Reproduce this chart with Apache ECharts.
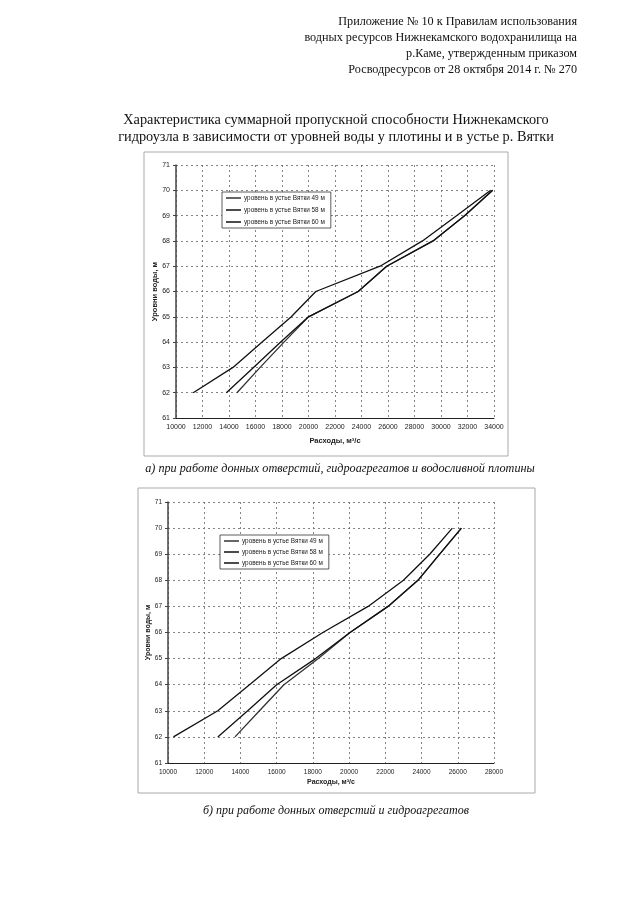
<!DOCTYPE html>
<html><head><meta charset="utf-8">
<script src="https://cdn.jsdelivr.net/npm/echarts@6/dist/echarts.min.js"></script>
<style>html,body{margin:0;padding:0;background:#fff}#c{width:640px;height:905px}</style>
</head><body><div id="c"></div>
<script>
// Water levels at the dam (m)
const levels = [62, 63, 64, 65, 66, 67, 68, 69, 70];
// Chart a) discharges (m3/s) for Vyatka mouth levels 49, 58, 60 m
const a49 = [14600, 16350, 18150, 20000, 23750, 25900, 29400, 31800, 33900];
const a58 = [13800, 15850, 17900, 20000, 23750, 25900, 29400, 31800, 33900];
const a60 = [11300, 14300, 16500, 18700, 20550, 25400, 28600, 31200, 33750];
// Chart b)
const b49 = [13700, 15050, 16400, 18300, 20050, 22150, 23800, 25000, 26200];
const b58 = [12750, 14400, 16000, 18150, 20050, 22150, 23800, 25000, 26200];
const b60 = [10300, 12750, 14500, 16250, 18550, 21050, 23000, 24450, 25700];
const names = ['уровень в устье Вятки 49 м', 'уровень в устье Вятки 58 м', 'уровень в устье Вятки 60 м'];
const headerLines = ['Приложение № 10 к Правилам использования', 'водных ресурсов Нижнекамского водохранилища на', 'р.Каме, утвержденным приказом', 'Росводресурсов от 28 октября 2014 г. № 270'];
const titleLines = ['Характеристика суммарной пропускной способности Нижнекамского', 'гидроузла в зависимости от уровней воды у плотины и в устье р. Вятки'];
const captionA = 'а) при работе донных отверстий, гидроагрегатов и водосливной плотины';
const captionB = 'б) при работе донных отверстий и гидроагрегатов';
const xNameText = 'Расходы, м³/с';
const yNameText = 'Уровни воды, м';

const pairs = (xs) => xs.map((x, i) => [x, levels[i]]);
const chart = echarts.init(document.getElementById('c'), null, {renderer: 'canvas'});

const gridLine = {show: true, lineStyle: {color: '#666', width: 0.8, type: [2, 3]}};
function xAx(gi, max, fs, nameGap) {
  return {type: 'value', gridIndex: gi, min: 10000, max: max, interval: 2000,
    axisLine: {show: true, lineStyle: {color: '#222', width: 1}},
    axisTick: {show: false}, splitLine: gridLine,
    axisLabel: {fontSize: fs, color: '#222', fontFamily: 'Liberation Sans', margin: 6, formatter: (v) => String(v)},
    name: xNameText, nameLocation: 'middle', nameGap: nameGap, nameMoveOverlap: false,
    nameTextStyle: {fontSize: fs + 0.5, fontWeight: 'bold', color: '#222', fontFamily: 'Liberation Sans'}};
}
function yAx(gi, fs, nameGap) {
  return {type: 'value', gridIndex: gi, min: 61, max: 71, interval: 1,
    axisLine: {show: true, lineStyle: {color: '#444', width: 1.5}},
    axisTick: {show: true, length: 3, lineStyle: {color: '#444'}}, splitLine: gridLine,
    axisLabel: {fontSize: fs, color: '#222', fontFamily: 'Liberation Sans', margin: 6, formatter: (v) => String(v)},
    name: yNameText, nameLocation: 'middle', nameGap: nameGap, nameRotate: 90, nameMoveOverlap: false,
    nameTextStyle: {fontSize: fs + 0.5, fontWeight: 'bold', color: '#222', fontFamily: 'Liberation Sans'}};
}
function ser(name, data, gi, color) {
  return {type: 'line', name: name, xAxisIndex: gi, yAxisIndex: gi, data: pairs(data),
    showSymbol: false, symbol: 'none', lineStyle: {color: color, width: 1.3}, itemStyle: {color: color}, z: 3, silent: true, animation: false};
}
function legend(left, top, gap) {
  return {data: names, orient: 'vertical', left: left, top: top, itemGap: gap,
    icon: 'rect', itemWidth: 15, itemHeight: 1.5,
    backgroundColor: '#fff', borderColor: '#333', borderWidth: 0.8, padding: [3, 6, 3, 4],
    textStyle: {fontSize: 6.4, color: '#222', fontFamily: 'Liberation Sans', padding: [0, 0, 0, -2]},
    selectedMode: false};
}

const graphics = [];
headerLines.forEach((t, i) => graphics.push({type: 'text', x: 577, y: 16 + i * 16,
  style: {text: t, font: '12.2px "Liberation Serif"', fill: '#111', textAlign: 'right'}}));
titleLines.forEach((t, i) => graphics.push({type: 'text', x: 336, y: 113 + i * 17,
  style: {text: t, font: '14.3px "Liberation Serif"', fill: '#111', textAlign: 'center'}}));
graphics.push({type: 'rect', shape: {x: 144, y: 152, width: 364, height: 304}, style: {fill: 'none', stroke: '#aaa', lineWidth: 1}, z: -1});
graphics.push({type: 'rect', shape: {x: 138, y: 488, width: 397, height: 305}, style: {fill: 'none', stroke: '#aaa', lineWidth: 1}, z: -1});
graphics.push({type: 'text', x: 340, y: 463, style: {text: captionA, font: 'italic 12.2px "Liberation Serif"', fill: '#111', textAlign: 'center'}});
graphics.push({type: 'text', x: 336, y: 805, style: {text: captionB, font: 'italic 12px "Liberation Serif"', fill: '#111', textAlign: 'center'}});

chart.setOption({
  animation: false,
  grid: [
    {left: 176, top: 165, width: 318, height: 253},
    {left: 168, top: 502, width: 326, height: 261}
  ],
  xAxis: [xAx(0, 34000, 7, 19), xAx(1, 28000, 6.5, 16)],
  yAxis: [yAx(0, 7, 17), yAx(1, 6.5, 16)],
  legend: [legend(222, 192, 6), legend(220, 535, 5)],
  series: [
    ser(names[0], a49, 0, '#333'), ser(names[1], a58, 0, '#111'), ser(names[2], a60, 0, '#111'),
    ser(names[0], b49, 1, '#333'), ser(names[1], b58, 1, '#111'), ser(names[2], b60, 1, '#111')
  ],
  graphic: graphics
});
</script></body></html>
